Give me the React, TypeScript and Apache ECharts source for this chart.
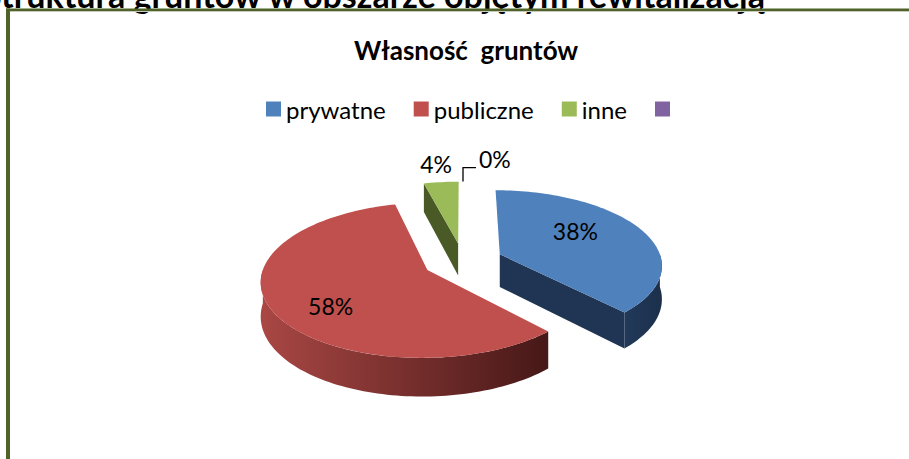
import React, { useEffect, useRef } from "react";
import * as echarts from "echarts";

// ---- data ----
const categories = ["prywatne", "publiczne", "inne", " "];
const shares = [38, 58, 4, 0];
const chartTitle = "Własność  gruntów";
const pageHeading = "Struktura gruntów w obszarze objętym rewitalizacją";

// ---- styles ----
const topColors = ["#4F81BD", "#C0504D", "#9BBB59", "#8064A2"];
const wallLight = ["#22395A", "#A94744", "#5A6E2E", "#4B3A62"];
const wallDark = ["#1C304B", "#461817", "#3F4C20", "#372A48"];
const cutColors = ["#1F3553", "#5A1E1D", "#4A5A27", "#3C2E52"];
const labelRadius = [0.62, 0.74, 1.35, 1.0];
const labelNudgeX = [-13, 17, 0, 0];
const labelNudgeY = [-7, 7, 0, 0];
const drawOrder = [2, 3, 0, 1];
const FONT = "Lato";

// ---- 3D pie geometry ----
const CX = 463, CY = 261, RX = 162, RY = 74, DEPTH = 33, EXPLODE = 0.247, PERSP = 0.13;

function project(px: number, py: number, h: number): number[] {
  const s = 1 / (1 - PERSP * py);
  return [CX + RX * px * s, CY + RY * py * s + DEPTH * h * s];
}

function renderSlice(params: any, api: any) {
  const idx = drawOrder[params.seriesIndex];
  const total = shares.reduce((a, b) => a + b, 0);
  let cum = 0;
  for (let k = 0; k < idx; k++) cum += shares[k];
  const value = api.value(0);
  const a0 = (2 * Math.PI * cum) / total;
  const a1 = a0 + (2 * Math.PI * value) / total;
  const mid = (a0 + a1) / 2;
  const ox = EXPLODE * Math.sin(mid);
  const oy = -EXPLODE * Math.cos(mid);
  const rim = (a: number, h: number) => project(ox + Math.sin(a), oy - Math.cos(a), h);
  const apex = (h: number) => project(ox, oy, h);
  const children: any[] = [];
  const span = a1 - a0;
  const pct = Math.round((value / total) * 100) + "%";
  if (span > 1e-6) {
    const n = Math.max(2, Math.ceil(span / (Math.PI / 120)));
    if (Math.sin(a0) < -1e-6) {
      children.push({
        type: "polygon",
        shape: { points: [apex(0), rim(a0, 0), rim(a0, 1), apex(1)] },
        style: { fill: cutColors[idx] },
      });
    }
    if (Math.sin(a1) > 1e-6) {
      children.push({
        type: "polygon",
        shape: { points: [apex(0), rim(a1, 0), rim(a1, 1), apex(1)] },
        style: { fill: cutColors[idx] },
      });
    }
    const w0 = Math.max(a0, Math.PI / 2);
    const w1 = Math.min(a1, (3 * Math.PI) / 2);
    if (w1 > w0) {
      const m = Math.max(2, Math.ceil((w1 - w0) / (Math.PI / 120)));
      const pts: number[][] = [];
      for (let j = 0; j <= m; j++) pts.push(rim(w0 + ((w1 - w0) * j) / m, 0));
      for (let j = m; j >= 0; j--) pts.push(rim(w0 + ((w1 - w0) * j) / m, 1));
      children.push({
        type: "polygon",
        shape: { points: pts },
        style: {
          fill: new echarts.graphic.LinearGradient(0, 0, 1, 0, [
            { offset: 0, color: wallLight[idx] },
            { offset: 1, color: wallDark[idx] },
          ]),
        },
      });
    }
    const top: number[][] = [apex(0)];
    for (let j = 0; j <= n; j++) top.push(rim(a0 + (span * j) / n, 0));
    children.push({ type: "polygon", shape: { points: top }, style: { fill: topColors[idx] } });
    const lr = labelRadius[idx];
    const lp = project(ox + lr * Math.sin(mid), oy - lr * Math.cos(mid), 0);
    children.push({
      type: "text",
      style: {
        text: pct,
        x: lp[0] + labelNudgeX[idx],
        y: lp[1] + labelNudgeY[idx],
        fill: "#000",
        fontSize: 23,
        fontFamily: FONT,
        align: "center",
        verticalAlign: "middle",
      },
    });
  } else {
    const r = rim(a0, 0);
    const p1 = [r[0], r[1] - 14];
    const p2 = [r[0] + 13, r[1] - 14];
    children.push({
      type: "polyline",
      shape: { points: [r, p1, p2] },
      style: { stroke: "#000", lineWidth: 1.3, fill: null },
    });
    children.push({
      type: "text",
      style: {
        text: pct,
        x: p2[0] + 3,
        y: p2[1] + 3,
        fill: "#000",
        fontSize: 23,
        fontFamily: FONT,
        align: "left",
        verticalAlign: "bottom",
      },
    });
  }
  return { type: "group", children };
}

export default function App() {
  const ref = useRef<HTMLDivElement>(null);
  useEffect(() => {
    if (!ref.current) return;
    const chart = echarts.init(ref.current, null, { renderer: "svg" });
    chart.setOption({
      animation: false,
      backgroundColor: "#ffffff",
      title: {
        text: chartTitle,
        left: 354,
        top: 37,
        padding: 0,
        textStyle: { fontFamily: FONT, fontWeight: "bold", fontSize: 26, color: "#000" },
      },
      legend: {
        left: 266,
        top: 97,
        padding: 0,
        icon: "rect",
        itemWidth: 15,
        itemHeight: 15,
        itemGap: 28,
        selectedMode: false,
        textStyle: { fontFamily: FONT, fontSize: 24, color: "#000" },
        data: categories.map((name, i) => ({ name, itemStyle: { color: topColors[i] } })),
      },
      graphic: [
        {
          type: "text",
          style: {
            text: pageHeading,
            x: 765,
            y: 11,
            fill: "#000",
            fontSize: 34,
            fontWeight: "bold",
            fontFamily: FONT,
            align: "right",
            verticalAlign: "bottom",
          },
        },
        { type: "rect", shape: { x: 6, y: 11, width: 903, height: 1 }, style: { fill: "#c9cbc0" } },
        { type: "rect", shape: { x: 6, y: 8.5, width: 903, height: 2.5 }, style: { fill: "#4F6228" } },
        { type: "rect", shape: { x: 6, y: 8.5, width: 4, height: 451 }, style: { fill: "#4F6228" } },
      ],
      series: drawOrder.map((i) => ({
        type: "custom",
        name: categories[i],
        coordinateSystem: "none",
        silent: true,
        renderItem: renderSlice,
        itemStyle: { color: topColors[i] },
        data: [shares[i]],
      })),
    });
    return () => chart.dispose();
  }, []);
  return <div ref={ref} style={{ position: "fixed", left: 0, top: 0, width: 909, height: 459 }} />;
}
